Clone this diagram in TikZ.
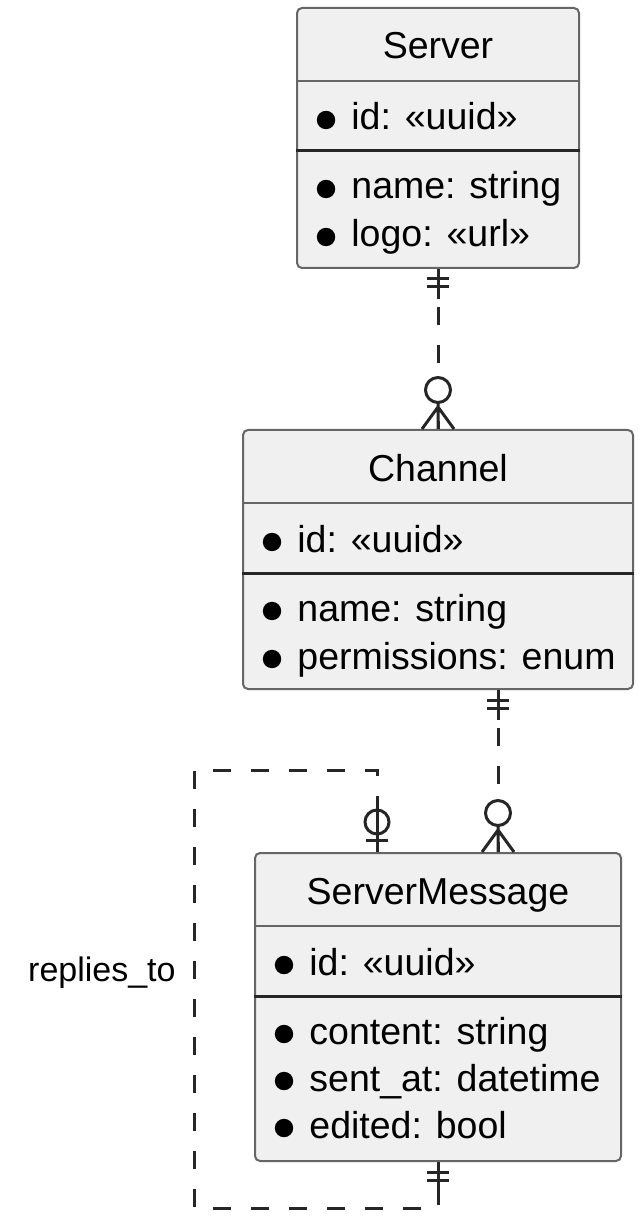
\documentclass[tikz,border=0pt]{standalone}
\usepackage{fontspec}
\setmainfont{Liberation Sans}
\usetikzlibrary{calc}

\tikzset{
  entity/.style={draw=black!60, line width=1pt, fill=black!6, rounded corners=2.5pt,
    inner sep=0pt, anchor=north},
  etitle/.style={anchor=base, inner sep=0pt, font=\fontsize{18.75}{22}\selectfont},
  attr/.style={anchor=base west, inner sep=0pt, font=\fontsize{18.75}{22}\selectfont},
  rlabel/.style={anchor=base east, inner sep=0pt, font=\fontsize{17}{20}\selectfont},
  thinsep/.style={draw=black!60, line width=1pt},
  thicksep/.style={draw=black!85, line width=1.5pt},
  rel/.style={draw=black!85, line width=1.5pt, dash pattern=on 9pt off 10pt},
  tipline/.style={draw=black!85, line width=1.5pt},
  % relation ends, drawn pointing down (away from the entity)
  pics/exactlyone/.style={code={
    \draw[tipline] (0,0) -- (0,30) (-11,10) -- (11,10) (-11,18) -- (11,18);
  }},
  pics/zeromany/.style={code={
    \draw[tipline] (-16,0) -- (0,22) -- (16,0) (0,0) -- (0,26.5);
    \draw[tipline, fill=white] (0,39) circle (6.25pt);
  }},
  pics/zeroone/.style={code={
    \fill[white] (0,30) circle (6pt);
    \draw[tipline] (0,0) -- (0,44) (-11,12) -- (11,12);
    \draw[tipline] (0,30) circle (6pt);
  }},
}

\begin{document}
\begin{tikzpicture}[x=0.5pt, y=-0.5pt]
  \useasboundingbox (0,0) rectangle (641,1218);

  % entities
  \node[entity, minimum width=141pt, minimum height=130pt] (server) at (438,7) {};
  \node[entity, minimum width=195pt, minimum height=129.5pt] (channel) at (438,429) {};
  \node[entity, minimum width=183pt, minimum height=154pt] (msg) at (438,852) {};

  \foreach \e/\t in {server/Server, channel/Channel, msg/ServerMessage} {
    \node[etitle] (\e-title) at ($(\e.north)+(0,52)$) {\t};
    \draw[thinsep] ($(\e.north west)+(0,74)$) -- ($(\e.north east)+(0,74)$);
    \draw[thicksep] ($(\e.north west)+(0,144)$) -- ($(\e.north east)+(0,144)$);
    \fill ($(\e.north west)+(30,113)$) circle (4.6pt);
    \node[attr] (\e-id) at ($(\e.north west)+(55,123)$) {id: «uuid»};
  }

  % attributes below the key
  \foreach \t [count=\i] in {name: string, logo: «url»} {
    \fill ($(server.north west)+(30,182+48*\i-48)$) circle (4.6pt);
    \node[attr] (server-a\i) at ($(server.north west)+(55,192+48*\i-48)$) {\t};
  }
  \foreach \t [count=\i] in {name: string, permissions: enum} {
    \fill ($(channel.north west)+(30,182+48*\i-48)$) circle (4.6pt);
    \node[attr] (channel-a\i) at ($(channel.north west)+(55,192+48*\i-48)$) {\t};
  }
  \foreach \t [count=\i] in {content: string, sent\_at: datetime, edited: bool} {
    \fill ($(msg.north west)+(30,182+47*\i-47)$) circle (4.6pt);
    \node[attr] (msg-a\i) at ($(msg.north west)+(55,192+47*\i-47)$) {\t};
  }

  % relations
  \draw[rel] (server.south) -- (channel.north);
  \pic at (server.south) {exactlyone};
  \pic[yscale=-1] at (channel.north) {zeromany};

  \draw[rel] ($(channel.south)+(60,0)$) -- ($(msg.north)+(60,0)$);
  \pic at ($(channel.south)+(60,0)$) {exactlyone};
  \pic[yscale=-1] at ($(msg.north)+(60,0)$) {zeromany};

  % self reference
  \coordinate (loopa) at ($(msg.north)+(-61,0)$);
  \draw[rel] (loopa) -- (loopa |- 0,770) -- (194,770) -- (194,1208)
    -- (msg.south |- 0,1208) -- (msg.south);
  \pic[yscale=-1] at (loopa) {zeroone};
  \pic at (msg.south) {exactlyone};
  \node[rlabel] (lbl) at (176,981) {replies\_to};
\end{tikzpicture}
\end{document}
